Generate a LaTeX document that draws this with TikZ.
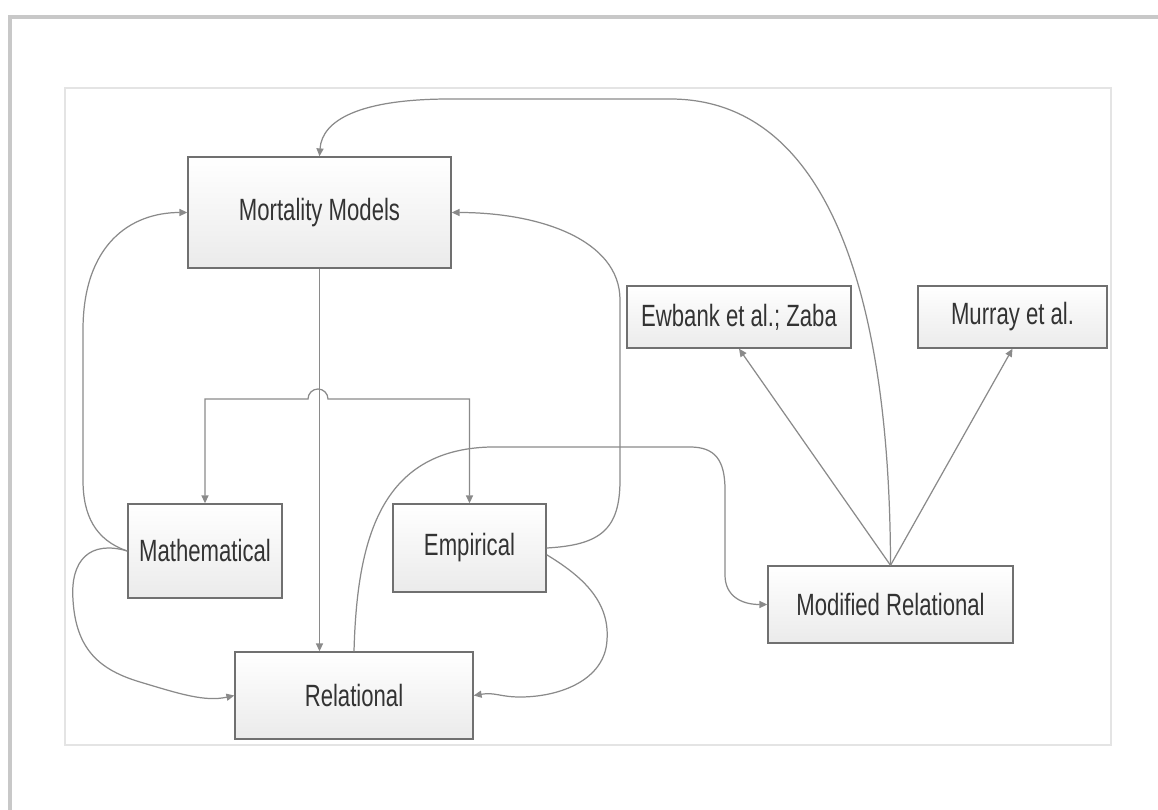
\documentclass[tikz,border=0pt]{standalone}
\usepackage{fontspec}
\newfontfamily\boxfont[FakeStretch=0.72]{Liberation Sans}
\usetikzlibrary{arrows.meta,shadows}
\definecolor{linegray}{HTML}{8A8A8A}
\definecolor{edgegray}{HTML}{707070}
\definecolor{textgray}{HTML}{333333}
\definecolor{framegray}{HTML}{C8C8C8}
\definecolor{innergray}{HTML}{E4E4E4}
\begin{document}
\begin{tikzpicture}[x=0.02cm,y=-0.02cm,
  modelbox/.style={draw=edgegray,line width=0.8pt,top color=white,bottom color=black!8,
    drop shadow={shadow xshift=0.6pt,shadow yshift=-0.6pt,opacity=0.25},
    text=textgray,font=\boxfont\fontsize{17.5}{20}\selectfont,inner sep=0pt},
  link/.style={draw=linegray,line width=0.7pt},
  tip/.style={-{Triangle[length=4.5pt,width=4pt]}}]
\useasboundingbox (0,0) rectangle (1158,810);
\draw[framegray,line width=1.8pt] (10,812) -- (10,17) -- (1160,17);
\draw[innergray,line width=0.8pt] (65,88) rectangle (1111,745);
\node[modelbox,minimum width=5.26cm,minimum height=2.22cm] (mm) at (319.5,212.5) {Mortality Models};
\node[modelbox,minimum width=3.08cm,minimum height=1.88cm] (math) at (205,551) {Mathematical};
\node[modelbox,minimum width=3.06cm,minimum height=1.76cm] (emp) at (469.5,548) {Empirical};
\node[modelbox,minimum width=4.76cm,minimum height=1.74cm] (rel) at (354,695.5) {Relational};
\node[modelbox,minimum width=4.9cm,minimum height=1.54cm] (mr) at (890.5,604.5) {Modified Relational};
\node[modelbox,minimum width=4.48cm,minimum height=1.24cm] (ewb) at (739,317) {Ewbank et al.; Zaba};
\node[modelbox,minimum width=3.78cm,minimum height=1.24cm] (mur) at (1012.5,317) {Murray et al.};
\coordinate (bus) at (0,399);
\draw[link,tip] (math.west) .. controls (95,540) and (83,515) .. (83,480) -- (83,330)
  .. controls (83,245) and (130,212.5) .. (mm.west);
\draw[link,tip] (math.west) .. controls (90,540) and (70,560) .. (73,600)
  .. controls (76,650) and (100,670) .. (140,682) .. controls (180,694) and (205,702) .. (rel.west);
\draw[link,tip] (mm.south) -- (mm.south |- rel.north);
\draw[link,{Triangle[length=4.5pt,width=4pt]}-{Triangle[length=4.5pt,width=4pt]}]
  (math.north) -- (math.north |- bus) -- (308,399) arc[start angle=180,end angle=360,radius=10]
  -- (emp.north |- bus) -- (emp.north);
\draw[link,tip] (rel.north) .. controls (357,540) and (380,450) .. (490,447) -- (690,447)
  .. controls (715,447) and (725,460) .. (725,490) -- (725,575)
  .. controls (725,595) and (740,604.5) .. (mr.west);
\draw[link,tip] (emp.east) .. controls (600,545) and (620,530) .. (620,480) -- (620,300)
  .. controls (620,240) and (540,212.5) .. (mm.east);
\draw[link,tip] (emp.-5) .. controls (580,575) and (610,600) .. (607,640)
  .. controls (605,680) and (560,697) .. (520,697) .. controls (500,697) and (495,692) .. (rel.east);
\draw[link,tip] (mr.north) -- (ewb.south);
\draw[link,tip] (mr.north) -- (mur.south);
\draw[link,tip] (mr.north) .. controls (890,300) and (830,99) .. (670,99) -- (450,99)
  .. controls (360,99) and (322,120) .. (mm.north);
\end{tikzpicture}
\end{document}
